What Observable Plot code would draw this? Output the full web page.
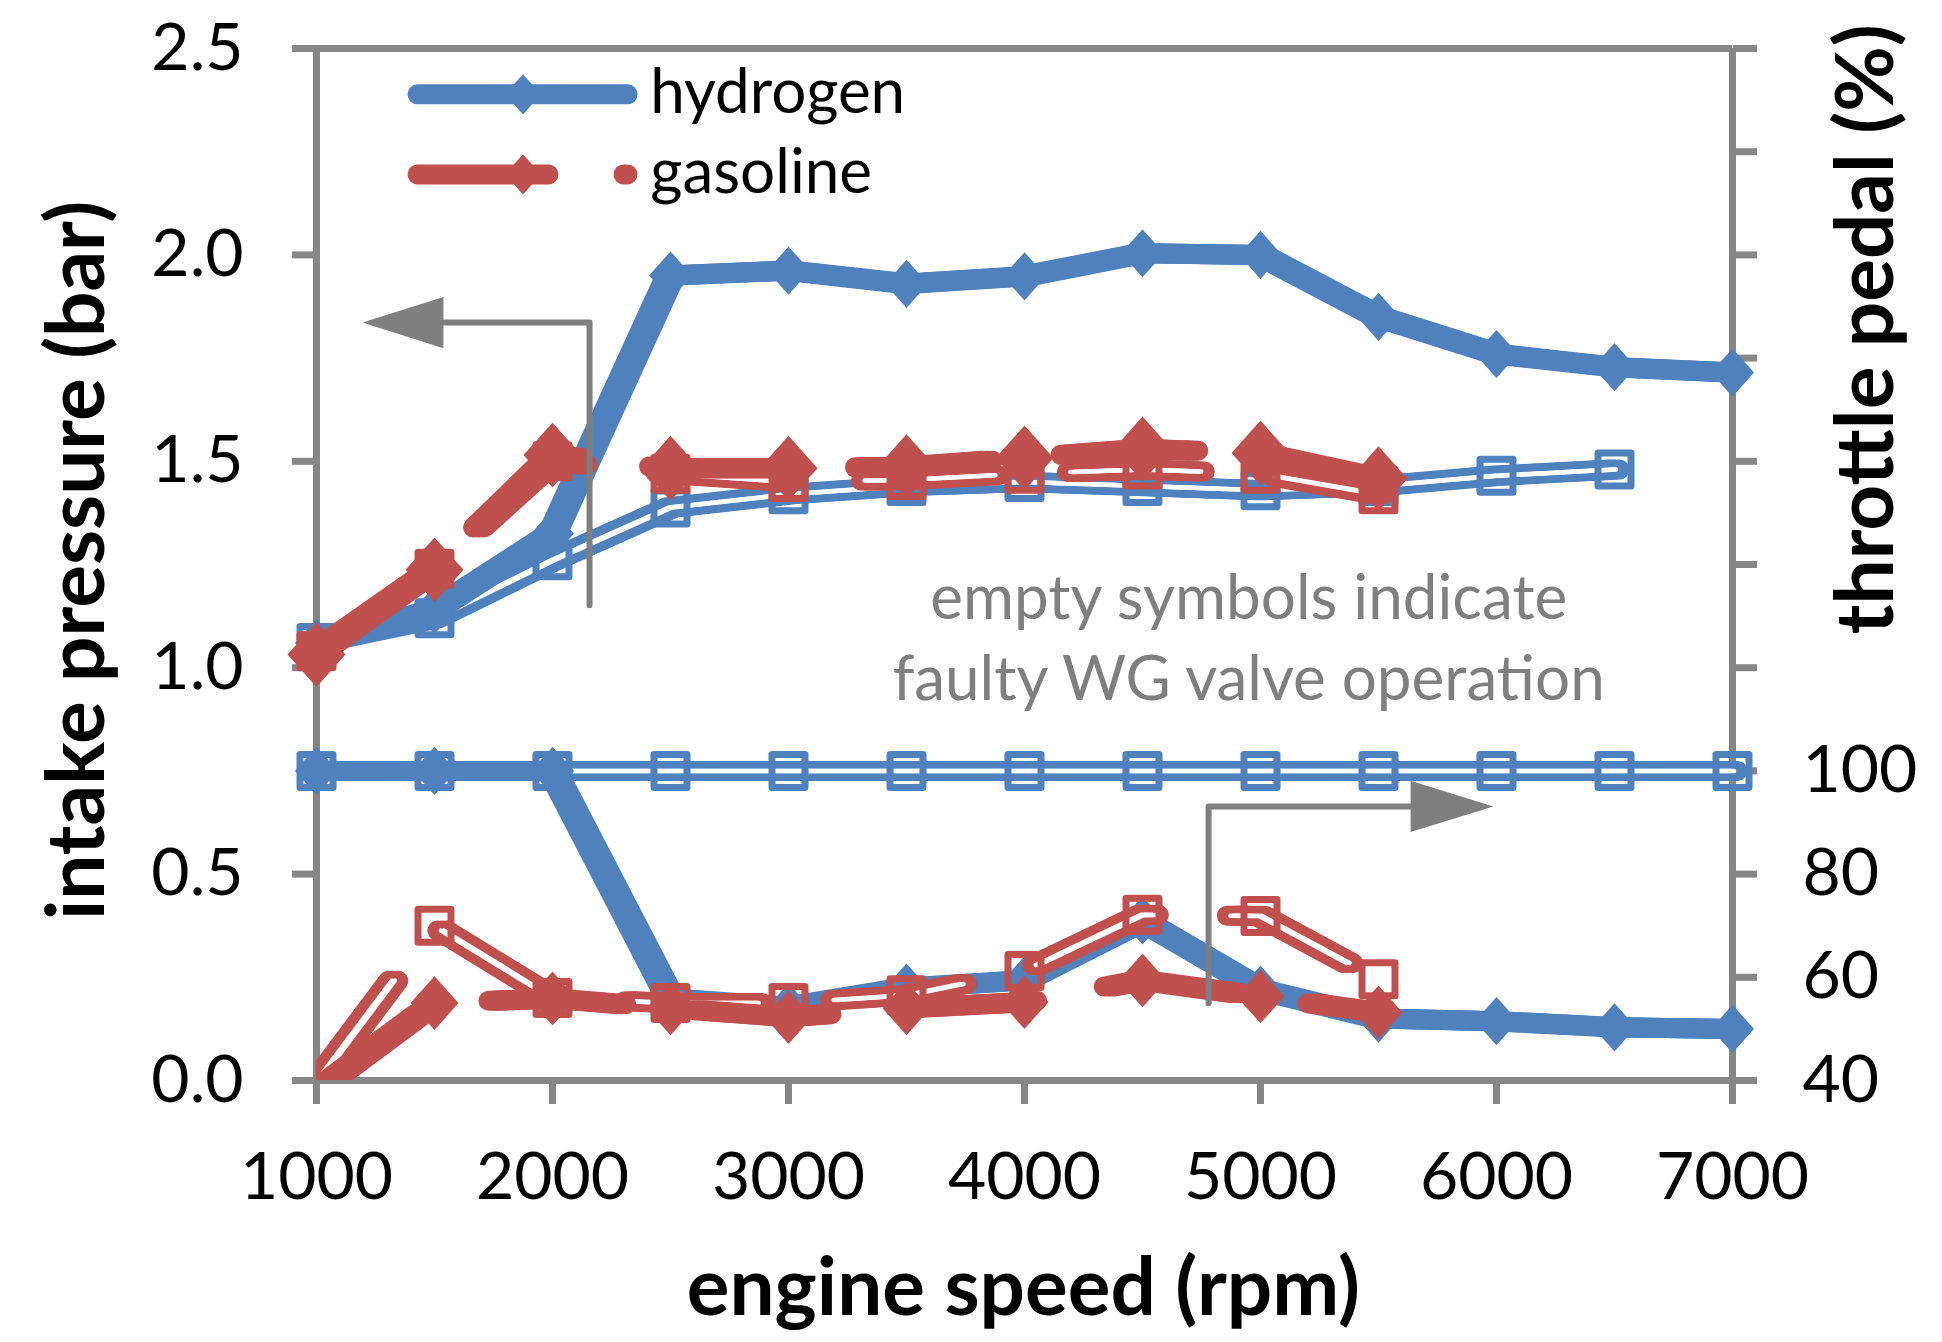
<!DOCTYPE html>
<html><head><meta charset="utf-8">
<style>html,body{margin:0;padding:0;background:#fff}svg{display:block}</style>
<script src="https://cdn.jsdelivr.net/npm/d3@7"></script>
<script src="https://cdn.jsdelivr.net/npm/@observablehq/plot@0.6"></script>
</head><body><div id="chart"></div>
<script>
const rpm = [1000,1500,2000,2500,3000,3500,4000,4500,5000,5500,6000,6500,7000];
const pressureTicks = [0,0.5,1,1.5,2,2.5];
const throttleTicks = [40,60,80,100,120,140,160,180,200,220,240];
const throttleLabelled = [40,60,80,100];
const rpmTicks = [1000,2000,3000,4000,5000,6000,7000];

// intake pressure (bar)
const h2Pressure     = [1.06,1.14,1.325,1.95,1.962,1.93,1.948,2.004,2.0,1.85,1.76,1.728,1.715];
const h2PressureOpen = [1.06,1.12,1.26,1.388,1.42,1.44,1.45,1.44,1.43,1.44,1.465,1.48,null];
const gasPressure    = [1.032,1.237,1.515,1.483,1.483,1.487,1.508,1.53,1.52,1.458,null,null,null];
const gasPressureOpen= [1.04,1.24,1.5,1.47,1.45,1.455,1.47,1.48,1.47,1.42,null,null,null];
// throttle pedal (%)
const h2Throttle     = [100,100,100,55.9,54.2,58,59.4,71,57.6,52,51.5,50.3,50];
const h2ThrottleOpen = [100,100,100,100,100,100,100,100,100,100,100,100,100];
const gasThrottle    = [38,55,55.9,54,52.3,54,55.2,59.4,56.3,53.2,null,null,null];
const gasThrottleOpen= [39.5,70,56,55,55,56.5,61.2,72.1,71.9,59.6,null,null,null];

const BLUE="#4f81bd", RED="#c0504d", GRAY="#868686", NOTE="#7f7f7f";
const W=20, SLIT=4.5, DASH="128,78", LEGEND_DASH="131,75";
const PEN=[-5,0,5], SLITPEN=[-1.5,1.5];     // the source image's strokes are wider across than they are tall
const FONT="Lato";
const thr = v => (v-40)/80;               // secondary axis onto the primary scale
const series = (vals,f=v=>v) => rpm.map((x,i)=>({x,y:vals[i]==null?null:f(vals[i])})).filter(d=>d.y!=null);
const onAxis = rows => rows.filter(d=>d.y>=0);

const tallDiamond = {draw(c,size){const r=Math.sqrt(size/Math.PI),h=r*1.12;c.moveTo(0,-h);c.lineTo(r,0);c.lineTo(0,h);c.lineTo(-r,0);c.closePath();}};
const box = {draw(c,size){const r=Math.sqrt(size/Math.PI);c.moveTo(-r,-r);c.lineTo(r,-r);c.lineTo(r,r);c.lineTo(-r,r);c.closePath();}};

const stroke1=(rows,color,width,dash,clip,dx)=>Plot.line(rows,{x:"x",y:"y",dx,stroke:color,strokeWidth:width,strokeLinecap:"round",strokeLinejoin:"round",strokeDasharray:dash,clip:clip?"frame":undefined});
const solid=(rows,color,dashed,clip)=>PEN.map(dx=>stroke1(rows,color,W,dashed?DASH:undefined,clip,dx));
const hollow=(rows,color,dashed,clip)=>[
  ...PEN.map(dx=>stroke1(rows,color,W,dashed?DASH:undefined,clip,dx)),
  ...SLITPEN.map(dx=>stroke1(rows,"#fff",SLIT,dashed?DASH:undefined,clip,dx))
];
const diamonds=(rows,color,r)=>Plot.dot(onAxis(rows),{x:"x",y:"y",symbol:tallDiamond,r,fill:color,stroke:"none"});
const squares=(rows,color)=>Plot.dot(onAxis(rows),{x:"x",y:"y",symbol:box,r:16.5,fill:"none",stroke:color,strokeWidth:7,strokeLinejoin:"round"});

// annotation arrows, in data units
const arrow1Line=[{x:2157,y:1.151},{x:2157,y:1.836},{x:1538,y:1.836}];
const arrow1Head=[{x:1195,y:1.836},{x:1538,y:1.898},{x:1538,y:1.774}];
const arrow2Line=[{x:4780,y:0.187},{x:4780,y:0.664},{x:5636,y:0.664}];
const arrow2Head=[{x:5987,y:0.664},{x:5636,y:0.726},{x:5636,y:0.602}];
const legendH2=[{x:1428,y:2.389},{x:2318,y:2.389}];
const legendGas=[{x:1428,y:2.195},{x:2318,y:2.195}];

const label=(text,x,y,o={})=>Plot.text([text],{x:()=>x,y:()=>y,text:d=>d,fontFamily:FONT,textAnchor:"middle",lineAnchor:"middle",...o});

const chart=Plot.plot({
  width:1942,height:1342,
  marginLeft:316,marginRight:210,marginTop:48,marginBottom:262,
  style:{fontFamily:FONT,background:"#fff",overflow:"visible"},
  x:{domain:[1000,7000],axis:null},
  y:{domain:[0,2.5],axis:null},
  marks:[
    Plot.ruleX([1000,7000],{stroke:GRAY,strokeWidth:7}),
    Plot.ruleY([0,2.5],{stroke:GRAY,strokeWidth:7}),
    Plot.axisX({anchor:"bottom",ticks:rpmTicks,tickSize:24,tickPadding:48,fontSize:66,stroke:GRAY,strokeWidth:7,fill:"#000",label:null,tickFormat:d=>String(d)}),
    Plot.axisY({anchor:"left",ticks:pressureTicks,tickSize:24,tickPadding:49,fontSize:66,stroke:GRAY,strokeWidth:7,fill:"#000",label:null,tickFormat:d=>d.toFixed(1)}),
    Plot.axisY({anchor:"right",ticks:throttleTicks.map(thr),tickSize:24,tickPadding:46,fontSize:66,stroke:GRAY,strokeWidth:7,fill:"#000",label:null,
      tickFormat:d=>{const v=Math.round(d*80+40);return throttleLabelled.includes(v)?String(v):"";}}),

    ...hollow(series(h2PressureOpen),BLUE), squares(series(h2PressureOpen),BLUE),
    ...hollow(series(h2ThrottleOpen,thr),BLUE), squares(series(h2ThrottleOpen,thr),BLUE),
    ...solid(series(h2Pressure),BLUE), diamonds(series(h2Pressure),BLUE,21.5),
    ...solid(series(h2Throttle,thr),BLUE), diamonds(series(h2Throttle,thr),BLUE,21.5),
    ...hollow(series(gasPressureOpen),RED,true), squares(series(gasPressureOpen),RED),
    ...hollow(series(gasThrottleOpen,thr),RED,true,true), squares(series(gasThrottleOpen,thr),RED),
    ...solid(series(gasPressure),RED,true), diamonds(series(gasPressure),RED,29),
    ...solid(series(gasThrottle,thr),RED,true,true), diamonds(series(gasThrottle,thr),RED,24),

    Plot.line(arrow1Line,{x:"x",y:"y",stroke:NOTE,strokeWidth:6}),
    Plot.line(arrow1Head,{x:"x",y:"y",fill:NOTE,stroke:"none"}),
    Plot.line(arrow2Line,{x:"x",y:"y",stroke:NOTE,strokeWidth:6}),
    Plot.line(arrow2Head,{x:"x",y:"y",fill:NOTE,stroke:"none"}),

    stroke1(legendH2,BLUE,W,undefined,false,0),
    Plot.dot([legendH2[0]],{x:()=>1875,y:"y",symbol:tallDiamond,r:18,fill:BLUE}),
    stroke1(legendGas,RED,W,LEGEND_DASH,false,0),
    Plot.dot([legendGas[0]],{x:()=>1875,y:"y",symbol:tallDiamond,r:18,fill:RED}),
    label("hydrogen",2414,2.393,{textAnchor:"start",fontSize:62,fill:"#000"}),
    label("gasoline",2414,2.198,{textAnchor:"start",fontSize:62,fill:"#000"}),

    label("empty symbols indicate",4950,1.165,{fontSize:62,fill:NOTE}),
    label("faulty WG valve operation",4950,0.97,{fontSize:62,fill:NOTE}),

    label("engine speed (rpm)",3995,-0.505,{fontSize:80,fontWeight:700,fill:"#000"}),
    label("intake pressure (bar)",-8,1.26,{fontSize:80,fontWeight:700,fill:"#000",rotate:-90}),
    label("throttle pedal (%)",7570,1.82,{fontSize:80,fontWeight:700,fill:"#000",rotate:-90})
  ]
});
document.getElementById("chart").append(chart);
</script></body></html>
